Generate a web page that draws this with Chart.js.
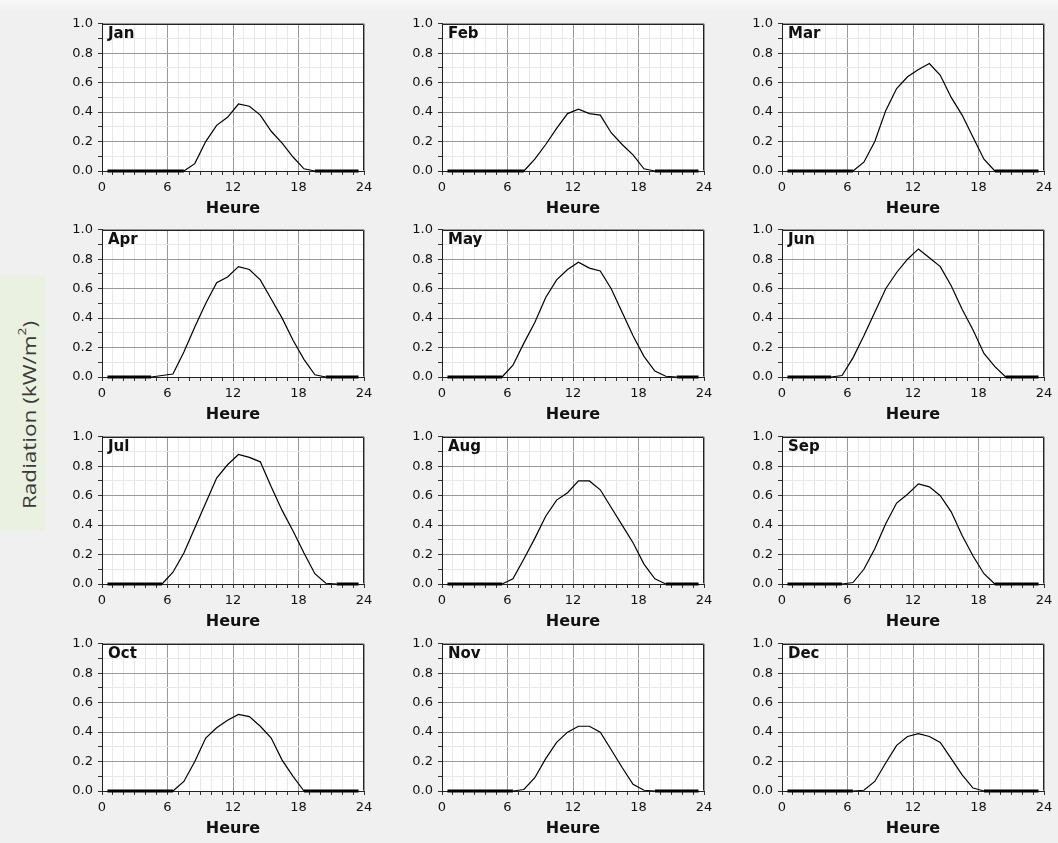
<!DOCTYPE html>
<html>
<head>
<meta charset="utf-8">
<script src="https://cdn.jsdelivr.net/npm/chart.js@4/dist/chart.umd.min.js"></script>
<style>
  html, body { margin: 0; padding: 0; }
  body {
    width: 1058px; height: 843px; overflow: hidden; position: relative;
    background: linear-gradient(#f8f8f8 0px, #eff0ef 12px, #eff0ef 100%);
    font-family: "DejaVu Sans", sans-serif;
  }
  .panel { position: absolute; width: 340px; height: 207px; }
  #ylabel {
    position: absolute; left: 0; top: 275px; width: 45px; height: 255px;
    background: #ebf1e0;
  }
  #ylabel span {
    position: absolute; left: 50%; top: 140px;
    writing-mode: vertical-rl;
    transform: translate(-35%, -50%) rotate(180deg) scaleY(1.25);
    font-family: "Open Sans", sans-serif; font-size: 18px; color: #3a3a3a; white-space: nowrap;
  }
  #ylabel sup { font-size: 11px; }
</style>
</head>
<body>
<div id="ylabel"><span>Radiation (kW/m<sup>2</sup>)</span></div>
<div id="panels"></div>
<script>
// hour of each sample (mid-hour)
const hours = [0.5, 1.5, 2.5, 3.5, 4.5, 5.5, 6.5, 7.5, 8.5, 9.5, 10.5, 11.5,
  12.5, 13.5, 14.5, 15.5, 16.5, 17.5, 18.5, 19.5, 20.5, 21.5, 22.5, 23.5];

const months = ['Jan', 'Feb', 'Mar', 'Apr', 'May', 'Jun', 'Jul', 'Aug', 'Sep', 'Oct', 'Nov', 'Dec'];

// radiation kW/m2, one list per month
const jan = [0, 0, 0, 0, 0, 0, 0, 0, 0.05, 0.2, 0.31, 0.365, 0.455, 0.44, 0.38, 0.27, 0.19, 0.095, 0.015, 0, 0, 0, 0, 0];
const feb = [0, 0, 0, 0, 0, 0, 0, 0, 0.08, 0.18, 0.29, 0.39, 0.42, 0.39, 0.38, 0.26, 0.18, 0.11, 0.015, 0, 0, 0, 0, 0];
const mar = [0, 0, 0, 0, 0, 0, 0, 0.06, 0.2, 0.41, 0.56, 0.64, 0.69, 0.73, 0.65, 0.5, 0.38, 0.23, 0.08, 0, 0, 0, 0, 0];
const apr = [0, 0, 0, 0, 0, 0.01, 0.02, 0.17, 0.34, 0.5, 0.64, 0.68, 0.75, 0.73, 0.66, 0.53, 0.4, 0.25, 0.12, 0.015, 0, 0, 0, 0];
const may = [0, 0, 0, 0, 0, 0, 0.08, 0.23, 0.37, 0.54, 0.66, 0.73, 0.78, 0.74, 0.72, 0.6, 0.44, 0.28, 0.14, 0.04, 0.005, 0, 0, 0];
const jun = [0, 0, 0, 0, 0, 0.01, 0.13, 0.28, 0.44, 0.6, 0.71, 0.8, 0.87, 0.81, 0.75, 0.62, 0.46, 0.32, 0.16, 0.07, 0, 0, 0, 0];
const jul = [0, 0, 0, 0, 0, 0, 0.08, 0.21, 0.38, 0.55, 0.72, 0.81, 0.88, 0.86, 0.83, 0.66, 0.5, 0.36, 0.21, 0.07, 0.005, 0, 0, 0];
const aug = [0, 0, 0, 0, 0, 0, 0.035, 0.17, 0.31, 0.46, 0.57, 0.62, 0.7, 0.7, 0.64, 0.52, 0.4, 0.28, 0.135, 0.035, 0, 0, 0, 0];
const sep = [0, 0, 0, 0, 0, 0, 0.01, 0.1, 0.24, 0.41, 0.55, 0.61, 0.68, 0.66, 0.6, 0.49, 0.33, 0.19, 0.07, 0, 0, 0, 0, 0];
const oct = [0, 0, 0, 0, 0, 0, 0, 0.065, 0.2, 0.36, 0.43, 0.48, 0.52, 0.505, 0.44, 0.36, 0.21, 0.1, 0, 0, 0, 0, 0, 0];
const nov = [0, 0, 0, 0, 0, 0, 0, 0.01, 0.09, 0.22, 0.33, 0.4, 0.44, 0.44, 0.4, 0.28, 0.16, 0.045, 0.005, 0, 0, 0, 0, 0];
const dec = [0, 0, 0, 0, 0, 0, 0, 0.005, 0.065, 0.19, 0.31, 0.37, 0.39, 0.37, 0.33, 0.22, 0.11, 0.02, 0, 0, 0, 0, 0, 0];

const series = [jan, feb, mar, apr, may, jun, jul, aug, sep, oct, nov, dec];

// x ticks labelled every 6 h, y every 0.2
const xLabelled = [0, 6, 12, 18, 24];
const yLabelled = ['0.0', '0.2', '0.4', '0.6', '0.8', '1.0'];

const colLeft = [52, 392, 732];
const rowTop = [11, 217, 424, 631];

// white plot background, frame on top/right, month name inside the plot
const framePlugin = {
  id: 'frame',
  beforeDraw(chart) {
    const a = chart.chartArea;
    const ctx = chart.ctx;
    ctx.save();
    ctx.fillStyle = '#fff';
    ctx.fillRect(a.left, a.top, a.right - a.left, a.bottom - a.top);
    ctx.restore();
  },
  afterDatasetsDraw(chart, args, opts) {
    const a = chart.chartArea;
    const ctx = chart.ctx;
    ctx.save();
    ctx.strokeStyle = '#222';
    ctx.lineWidth = 1;
    ctx.beginPath();
    ctx.moveTo(Math.round(a.left) + 0.5, Math.round(a.top) + 0.5);
    ctx.lineTo(Math.round(a.right) - 0.5, Math.round(a.top) + 0.5);
    ctx.lineTo(Math.round(a.right) - 0.5, Math.round(a.bottom) - 0.5);
    ctx.stroke();
    ctx.fillStyle = '#111';
    ctx.font = 'bold 15px "DejaVu Sans"';
    ctx.textBaseline = 'middle';
    ctx.fillText(opts.label, a.left + 6, a.top + 10);
    ctx.restore();
  }
};

const panels = document.getElementById('panels');

series.forEach((vals, mi) => {
  const box = document.createElement('div');
  box.className = 'panel';
  box.style.left = colLeft[mi % 3] + 'px';
  box.style.top = rowTop[Math.floor(mi / 3)] + 'px';
  const canvas = document.createElement('canvas');
  box.appendChild(canvas);
  panels.appendChild(box);

  new Chart(canvas, {
    type: 'line',
    data: {
      datasets: [{
        data: hours.map((h, i) => ({ x: h, y: vals[i] })),
        borderColor: '#000',
        borderWidth: 1.2,
        pointRadius: 0,
        tension: 0,
        clip: false,
        segment: {
          // flat night part sits on the axis and looks heavier
          borderWidth: c => (c.p0.parsed.y === 0 && c.p1.parsed.y === 0) ? 3 : 1.2
        }
      }]
    },
    options: {
      responsive: true,
      maintainAspectRatio: false,
      animation: false,
      events: [],
      layout: { padding: { top: 12, right: 28, left: 0, bottom: 0 } },
      plugins: {
        legend: { display: false },
        tooltip: { enabled: false },
        frame: { label: months[mi] }
      },
      scales: {
        x: {
          type: 'linear',
          min: 0, max: 24,
          afterFit: s => { s.height = 47; },
          ticks: {
            stepSize: 1,
            autoSkip: false,
            maxRotation: 0,
            padding: 5,
            color: '#111',
            font: { family: 'DejaVu Sans', size: 13 },
            callback: v => xLabelled.includes(v) ? String(v) : ''
          },
          grid: {
            color: c => (c.tick && c.tick.value % 6 === 0) ? '#999' : '#e8e8e8',
            tickColor: '#333',
            tickLength: 4
          },
          border: { color: '#222', width: 1 },
          title: {
            display: true,
            text: 'Heure',
            color: '#111',
            font: { family: 'DejaVu Sans', size: 16, weight: 'bold' },
            padding: { top: 2, bottom: 0 }
          }
        },
        y: {
          min: 0, max: 1,
          afterFit: s => { s.width = 50; },
          ticks: {
            stepSize: 0.1,
            autoSkip: false,
            padding: 5,
            color: '#111',
            font: { family: 'DejaVu Sans', size: 13 },
            callback: v => {
              const t = v.toFixed(1);
              return yLabelled.includes(t) ? t : '';
            }
          },
          grid: {
            color: c => (c.tick && Math.round(c.tick.value * 10) % 2 === 0) ? '#999' : '#e8e8e8',
            tickColor: '#333',
            tickLength: 4
          },
          border: { color: '#222', width: 1 }
        }
      }
    },
    plugins: [framePlugin]
  });
});
</script>
</body>
</html>
